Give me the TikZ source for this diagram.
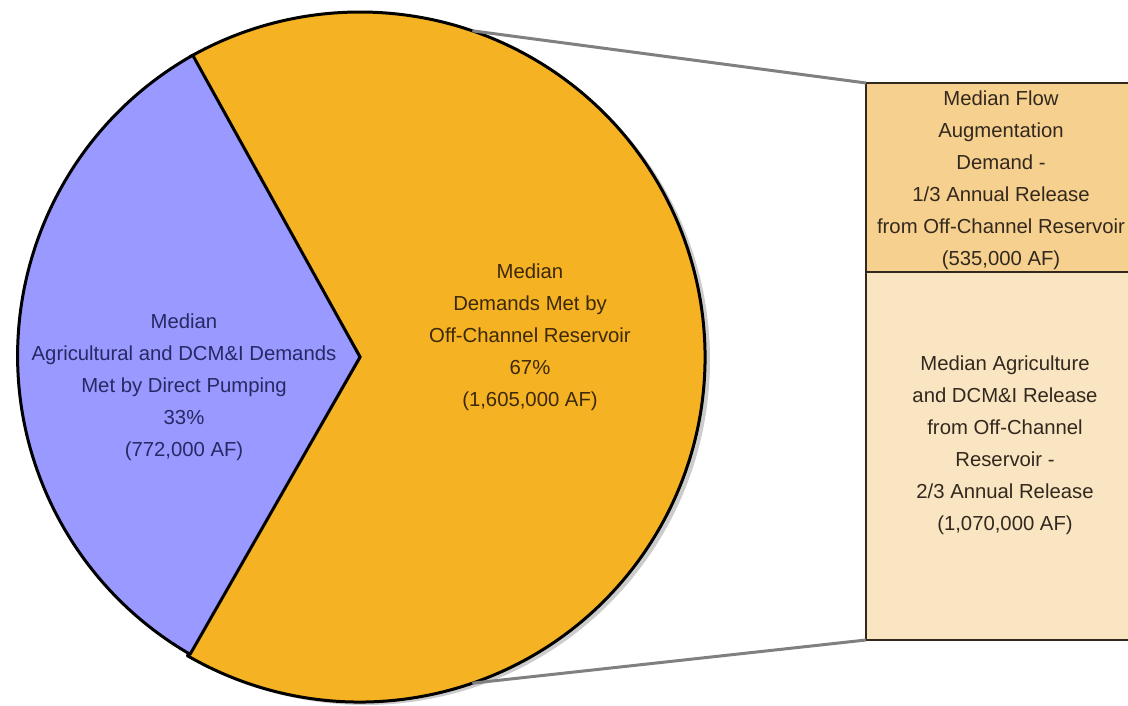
\documentclass[tikz,border=0pt]{standalone}
\usepackage{fontspec}
\setmainfont{Liberation Sans}
\usetikzlibrary{shadows}
\definecolor{pie_blue}{RGB}{153, 153, 255}
\definecolor{pie_orange}{RGB}{245, 178, 35}
\definecolor{box_top}{RGB}{246, 208, 142}
\definecolor{box_low}{RGB}{250, 229, 194}
\definecolor{txt_blue}{RGB}{40, 40, 100}
\definecolor{txt_brown}{RGB}{60, 40, 10}
\definecolor{txt_dark}{RGB}{50, 40, 30}
\tikzstyle{pc}=[circle,minimum size=690pt,inner sep=0pt,outer sep=0pt,fill=white,
  drop shadow={shadow xshift=5pt,shadow yshift=-3pt,opacity=0.4}]
\tikzstyle{wedge}=[draw=black,line width=3pt,line join=round]
\tikzstyle{bx}=[rectangle,draw=txt_dark,line width=2.5pt,anchor=north west,
  minimum width=270pt,inner sep=0pt,outer sep=0pt]
\tikzstyle{lbl}=[align=center,inner sep=0pt,font=\fontsize{20.3}{32}\selectfont]
\tikzstyle{link}=[draw=black!50,line width=3pt]
\tikzstyle{none}=[]

\begin{document}
\begin{tikzpicture}[x=1pt, y=1pt]
            \useasboundingbox (0, 0) rectangle (1128, 705);
            \node [style=pc] (0) at (360, 348) {};
            \filldraw [style=wedge, fill=pie_orange] (0.center) -- (0.240) arc [start angle=240, end angle=479.5, radius=345pt] -- cycle;
            \filldraw [style=wedge, fill=pie_blue] (0.center) -- (0.119.5) arc [start angle=119.5, end angle=240, radius=345pt] -- cycle;
            \node [style=lbl, text=txt_blue] (1) at (184, 318) {Median\\Agricultural and DCM\&I Demands\\Met by Direct Pumping\\33\%\\(772,000 AF)};
            \node [style=lbl, text=txt_brown] (2) at (530, 368) {Median\\Demands Met by\\Off-Channel Reservoir\\67\%\\(1,605,000 AF)};
            \node [style=bx, fill=box_top, minimum height=189pt] (3) at (866, 622) {};
            \node [style=bx, fill=box_low, minimum height=368pt] (4) at (866, 433) {};
            \node [style=lbl, text=txt_dark] (5) at (1001, 525) {Median Flow\\Augmentation\\Demand -\\1/3 Annual Release\\from Off-Channel Reservoir\\(535,000 AF)};
            \node [style=lbl, text=txt_dark] (6) at (1005, 260) {Median Agriculture\\and DCM\&I Release\\from Off-Channel\\Reservoir -\\2/3 Annual Release\\(1,070,000 AF)};
            \draw [style=link] (0.71.5) to (3.north west);
            \draw [style=link] (0.-71) to (4.south west);
\end{tikzpicture}
\end{document}
